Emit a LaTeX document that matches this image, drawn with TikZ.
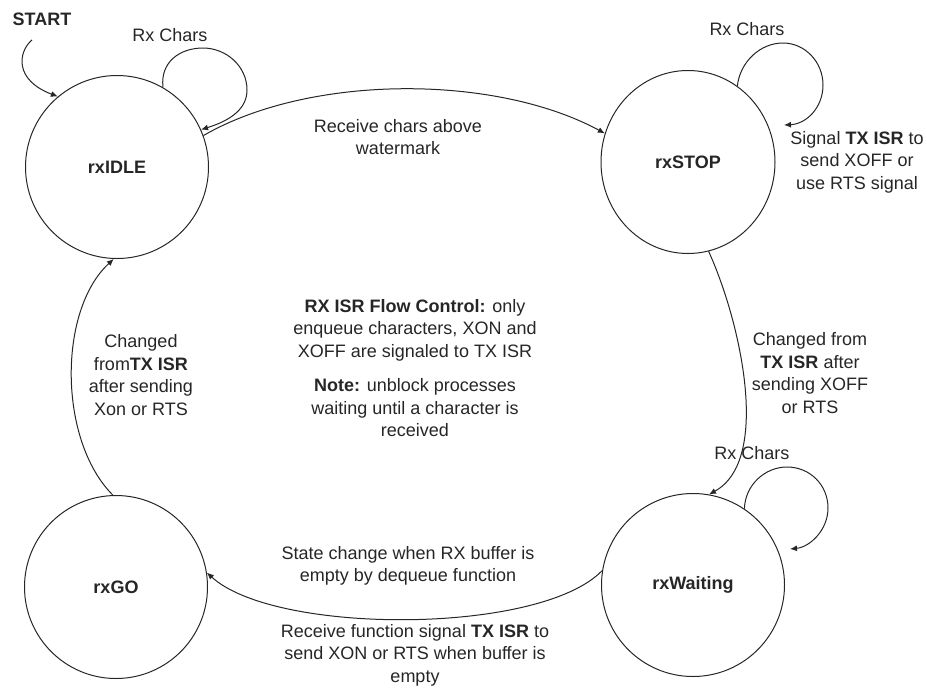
\documentclass[tikz,border=0pt]{standalone}
\usepackage{fontspec}
\setmainfont{Liberation Sans}
\usetikzlibrary{shapes.geometric,arrows.meta}
\begin{document}
\begin{tikzpicture}[x = 0.5pt, y = -0.5pt, line width = 0.5pt, color = black!85,
    font = \fontsize{9}{11.2}\selectfont,
    >= {Latex[length = 3.5pt, width = 3pt]},
    state/.style = {draw, circle, minimum size = 91.5pt, inner sep = 0pt,
      font = \fontsize{9}{11.2}\selectfont\bfseries},
    lbl/.style = {align = center, inner sep = 0pt}]
      \useasboundingbox (0,0) rectangle (927,687);
      \node [state] (idle) at (117,167) {rxIDLE};
      \node [state, ellipse, minimum width = 87pt] (stop) at (688,162) {rxSTOP};
      \node [state] (wait) at (693,585) {rxWaiting};
      \node [state] (go) at (116,587) {rxGO};
      \node [lbl, font = \fontsize{9}{11.2}\selectfont\bfseries] (start) at (42,19) {START};
      \coordinate (stopin) at (784,125);
      \coordinate (waitin) at (790,549);
      \draw [->] ([shift = {(-10,14)}]start.south) .. controls (18,52) and (14,80) .. (idle.130);
      \draw [->] (idle.60) .. controls (160,62) and (180,48) .. (203,48)
        .. controls (226,48) and (247,66) .. (247,90)
        .. controls (247,108) and (232,120) .. (idle.24);
      \draw [->] (idle.20) .. controls (310,74) and (495,74) .. (stop.161);
      \draw [->] (stop.57) .. controls (740,62) and (760,43) .. (783,43)
        .. controls (805,43) and (823,62) .. (823,85)
        .. controls (823,108) and (806,124) .. (stopin);
      \draw [->] (stop.-77) .. controls (740,320) and (772,460) .. (wait.80);
      \draw [->] (wait.56) .. controls (745,485) and (765,467) .. (787,467)
        .. controls (810,467) and (828,485) .. (828,508)
        .. controls (828,530) and (810,547) .. (waitin);
      \draw [->] (wait.171) .. controls (540,635) and (275,635) .. (go.9);
      \draw [->] (go.92) .. controls (58,440) and (58,310) .. (idle.-92);
      \node [lbl] (rxidle) at (170,35) {Rx Chars};
      \node [lbl] (rxstop) at (747,29) {Rx Chars};
      \node [lbl] (rxwait) at (752,453) {Rx Chars};
      \node [lbl] (water) at (398,137) {Receive chars above\\watermark};
      \node [lbl] (xoff) at (857,162) {Signal \textbf{TX ISR} to\\send XOFF or\\use RTS signal};
      \node [lbl] (tostop) at (810,373) {Changed from\\\textbf{TX ISR} after\\sending XOFF\\or RTS};
      \node [lbl] (toidle) at (141,375) {Changed\\from\textbf{TX ISR}\\after sending\\Xon or RTS};
      \node [lbl] (note) at (415,368) {\textbf{RX ISR Flow Control:} only\\enqueue characters, XON and\\XOFF are signaled to TX ISR\\[6pt]\textbf{Note:} unblock processes\\waiting until a character is\\received};
      \node [lbl] (empty) at (408,566) {State change when RX buffer is\\empty by dequeue function};
      \node [lbl] (xon) at (415,655) {Receive function signal \textbf{TX ISR} to\\send XON or RTS when buffer is\\empty};
    \end{tikzpicture}
\end{document}
